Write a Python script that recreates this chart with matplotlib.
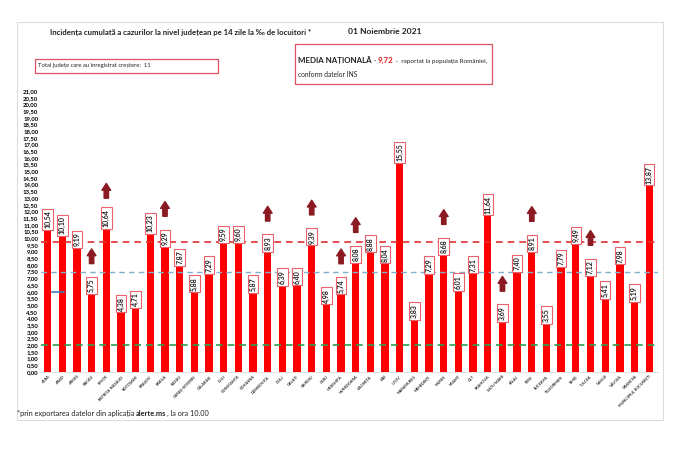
import numpy as np
import matplotlib
matplotlib.use('Agg')
import matplotlib.pyplot as plt
from matplotlib.patches import Rectangle

plt.rcParams['font.family'] = ['Lato', 'DejaVu Sans']

# data
judete = ['ALBA', 'ARAD', 'ARGEȘ', 'BACĂU', 'BIHOR', 'BISTRIȚA-NĂSĂUD', 'BOTOȘANI',
          'BRAȘOV', 'BRĂILA', 'BUZĂU', 'CARAȘ-SEVERIN', 'CĂLĂRAȘI', 'CLUJ', 'CONSTANȚA',
          'COVASNA', 'DÂMBOVIȚA', 'DOLJ', 'GALAȚI', 'GIURGIU', 'GORJ', 'HARGHITA',
          'HUNEDOARA', 'IALOMIȚA', 'IAȘI', 'ILFOV', 'MARAMUREȘ', 'MEHEDINȚI', 'MUREȘ',
          'NEAMȚ', 'OLT', 'PRAHOVA', 'SATU MARE', 'SĂLAJ', 'SIBIU', 'SUCEAVA',
          'TELEORMAN', 'TIMIȘ', 'TULCEA', 'VASLUI', 'VÂLCEA', 'VRANCEA',
          'MUNICIPIUL BUCUREȘTI']
incidenta = [10.54, 10.10, 9.19, 5.75, 10.64, 4.38, 4.71, 10.23, 9.29, 7.87, 5.88, 7.29,
             9.59, 9.60, 5.87, 8.93, 6.39, 6.40, 9.39, 4.98, 5.74, 8.08, 8.88, 8.04,
             15.55, 3.83, 7.29, 8.68, 6.01, 7.31, 11.64, 3.69, 7.40, 8.91, 3.55, 7.79,
             9.49, 7.12, 5.41, 7.98, 5.19, 13.87]
crestere = ['BACĂU', 'BIHOR', 'BRĂILA', 'DÂMBOVIȚA', 'GIURGIU', 'HARGHITA', 'HUNEDOARA',
            'MUREȘ', 'SATU MARE', 'SIBIU', 'TULCEA']
media_nationala = 9.72
prag_albastru = 7.5
prag_verde = 2.0
y_ticks = np.arange(0, 21.01, 0.5)

W, H = 700, 451
fig = plt.figure(figsize=(7, 4.51), dpi=100)

def fx(px):
    return px / W

def fy(py):
    return 1 - py / H

# outer frame
fig.patches.append(Rectangle((fx(17), fy(420)), fx(663) - fx(17), fy(22) - fy(420),
                             transform=fig.transFigure, fill=False, edgecolor='#dddddd', lw=0.8))

ax = fig.add_axes([fx(41), fy(372), fx(658) - fx(41), fy(91) - fy(372)])
x = np.arange(len(judete))
ax.bar(x, incidenta, width=0.5, color='#ff0000', zorder=2)

ax.axhline(media_nationala, color='#e0302f', ls=(0, (4, 3)), lw=1.2, zorder=3)
ax.axhline(prag_albastru, color='#7fb0cc', ls=(0, (4, 3)), lw=1.0, zorder=3)
ax.axhline(prag_verde, color='#2e9e50', ls=(0, (4, 3)), lw=1.2, zorder=3)
ax.plot([0.3, 1.1], [6, 6], color='#3d7fc0', lw=1.2, zorder=3)

for i, v in enumerate(incidenta):
    ax.text(i, v + 0.2, f'{v:.2f}'.replace('.', ','), rotation=90, ha='center', va='bottom',
            fontsize=5, fontweight='bold', color='#222222', zorder=5,
            bbox=dict(boxstyle='square,pad=0.25', fc='white', ec='#e8616b', lw=0.8))
    if judete[i] in crestere:
        ax.annotate('', xy=(i, v + 3.45), xytext=(i, v + 2.35),
                    arrowprops=dict(arrowstyle='simple,head_width=0.9,head_length=0.7,tail_width=0.45',
                                    color='#8b1a22', mutation_scale=7, shrinkA=0, shrinkB=0),
                    zorder=5)

ax.set_xlim(-0.45, len(judete) - 0.4)
ax.set_ylim(0, 21)
ax.set_yticks(y_ticks)
ax.set_yticklabels([f'{t:.2f}'.replace('.', ',') for t in y_ticks], fontsize=4.3, fontweight='bold')
ax.set_xticks(x)
ax.set_xticklabels(judete, rotation=45, ha='right', rotation_mode='anchor', fontsize=2.8,
                   fontweight='bold', color='#333333')
ax.tick_params(axis='both', length=0, pad=2)
for s in ['top', 'right', 'left']:
    ax.spines[s].set_visible(False)
ax.spines['bottom'].set_color('#d9d9d9')
ax.spines['bottom'].set_linewidth(0.6)

# header
fig.text(fx(50), fy(33), 'Incidența cumulată a cazurilor la nivel județean pe 14 zile la ‰ de locuitori *',
         fontsize=5.6, fontweight='bold', va='center', color='#222222')
fig.text(fx(348), fy(32), '01 Noiembrie 2021', fontsize=6.1, fontweight='bold', va='center', color='#222222')

fig.patches.append(Rectangle((fx(35), fy(73)), fx(218) - fx(35), fy(59) - fy(73),
                             transform=fig.transFigure, fill=False, edgecolor='#e05060', lw=0.9))
fig.text(fx(38), fy(66), 'Total județe care au înregistrat creștere:  ' + str(len(crestere)),
         fontsize=4.2, va='center', color='#222222')

fig.patches.append(Rectangle((fx(295), fy(84)), fx(492) - fx(295), fy(44) - fy(84),
                             transform=fig.transFigure, fill=False, edgecolor='#e05060', lw=0.9))

renderer = fig.canvas.get_renderer()

def seq_text(px, py, parts):
    for s, kw in parts:
        t = fig.text(fx(px), fy(py), s, va='baseline', **kw)
        px += t.get_window_extent(renderer).width

seq_text(298, 63, [('MEDIA NAȚIONALĂ', dict(fontsize=5.7, fontweight='bold', color='#222222')),
                   (' - ', dict(fontsize=5.0, color='#222222')),
                   (f'{media_nationala:.2f}'.replace('.', ','), dict(fontsize=5.7, fontweight='bold', color='#e02020')),
                   (' -  raportat la populația României,', dict(fontsize=4.6, color='#222222'))])
fig.text(fx(298), fy(77), 'conform datelor INS', fontsize=4.8, va='baseline', color='#222222')

seq_text(17, 416, [('*prin exportarea datelor din aplicația ', dict(fontsize=5.3, color='#222222')),
                   ('alerte.ms', dict(fontsize=5.3, fontweight='bold', color='#222222')),
                   (', la ora 10.00', dict(fontsize=5.3, color='#222222'))])

fig.savefig('out.png', dpi=100)
